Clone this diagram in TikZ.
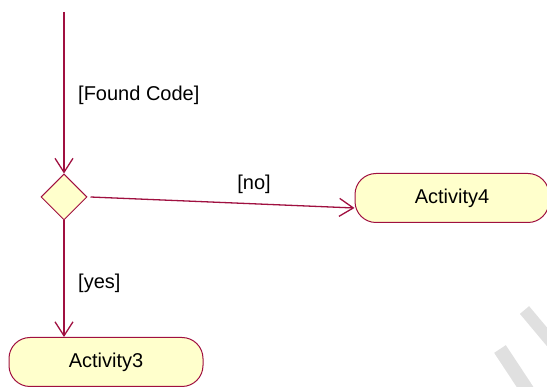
\documentclass[tikz,border=0pt]{standalone}
\usepackage{fontspec}
\setmainfont{Liberation Sans}
\usetikzlibrary{arrows.meta,shapes.geometric}
\definecolor{flow}{RGB}{160,16,64}
\definecolor{actfill}{RGB}{255,255,204}
\definecolor{wm}{RGB}{224,224,224}
\begin{document}
\begin{tikzpicture}[x=1pt,y=-1pt,
  flowline/.style={draw=flow,line width=1.3pt,-{Straight Barb[length=14pt,width=18pt,line width=1.3pt]}},
  activity/.style={draw=flow,fill=actfill,line width=1pt,rounded corners=21pt,
    minimum width=194pt,minimum height=49pt,inner sep=0pt,font=\fontsize{20}{24}\selectfont},
  decision/.style={diamond,draw=flow,fill=actfill,line width=1pt,
    minimum width=46pt,minimum height=46pt,inner sep=0pt},
  guard/.style={inner sep=0pt,font=\fontsize{20}{24}\selectfont}]
\useasboundingbox (0,0) rectangle (547,387);

% light grey strokes in the lower right corner
\begin{scope}
  \clip (0,0) rectangle (547,387);
  \draw[wm,line width=12pt] (524.5,310) -- (563,356);
  \draw[wm,line width=14pt] (500,349) -- (533,399);
\end{scope}

% nodes
\coordinate (top) at (64,12);
\node[decision] (d) at (64,197) {};
\node[activity] (a4) at (452,198) {Activity4};
\node[activity] (a3) at (106,362) {Activity3};

% guards
\node[guard,anchor=west] (fc) at (78,95) {[Found Code]};
\node[guard] (no) at (254,184) {[no]};
\node[guard,anchor=west] (yes) at (78,283) {[yes]};

% transitions
\draw[flowline] (top) -- (d.north);
\draw[flowline] ([xshift=3pt]d.east) -- ([yshift=-10pt]a4.west);
\draw[flowline] (d.south) -- (d.south |- a3.north);
\end{tikzpicture}
\end{document}
